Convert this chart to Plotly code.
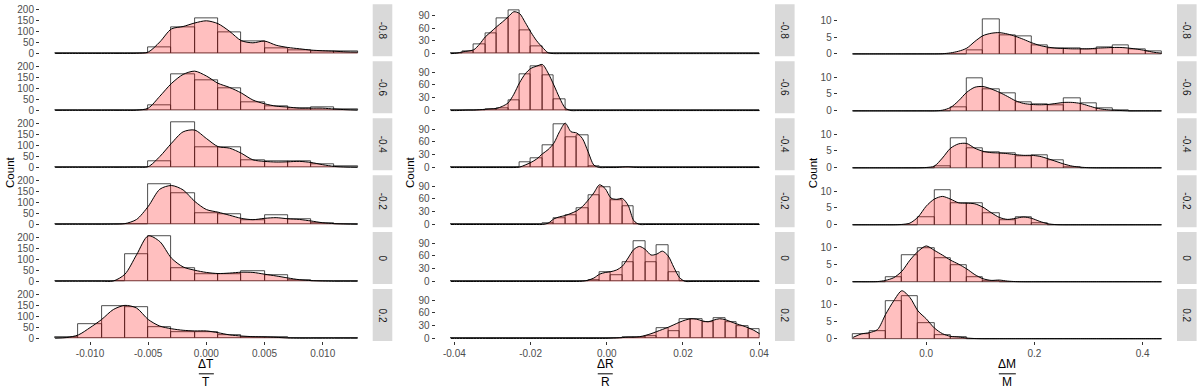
import plotly.graph_objects as go

facet_labels = ["-0.8", "-0.6", "-0.4", "-0.2", "0", "0.2"]

# ---------------- ΔT/T ----------------
dT_bins = [-0.012, -0.010, -0.008, -0.006, -0.004, -0.002, 0.000,
           0.002, 0.004, 0.006, 0.008, 0.010, 0.012]
dT_counts_m08 = [0, 0, 0, 0, 27, 118, 160, 96, 55, 25, 15, 11, 8]
dT_counts_m06 = [0, 0, 0, 0, 25, 163, 136, 99, 37, 18, 10, 13, 3]
dT_counts_m04 = [0, 0, 0, 0, 30, 203, 91, 91, 33, 27, 30, 12, 3]
dT_counts_m02 = [0, 0, 0, 0, 181, 142, 49, 44, 19, 41, 25, 7, 0]
dT_counts_0 = [0, 0, 0, 125, 205, 58, 33, 33, 44, 26, 6, 0, 0]
dT_counts_p02 = [6, 63, 146, 141, 51, 30, 30, 14, 6, 6, 0, 0, 0]

dT_grid = [-0.013, -0.012, -0.011, -0.010, -0.009, -0.008, -0.007, -0.006, -0.005,
           -0.004, -0.003, -0.002, -0.001, 0.000, 0.001, 0.002, 0.003, 0.004,
           0.005, 0.006, 0.007, 0.008, 0.009, 0.010, 0.011, 0.012, 0.013]
dT_dens_m08 = [0, 0, 0, 0, 0, 0, 0, 0.5, 6, 52, 111, 122, 138, 148, 135, 100, 58, 48,
               56, 37, 27, 21, 15, 12, 10, 7, 6]
dT_dens_m06 = [0, 0, 0, 0, 0, 0, 0, 0.5, 10, 64, 122, 163, 178, 156, 123, 104, 79, 47,
               30, 19, 15, 10, 10, 10, 6, 3, 1]
dT_dens_m04 = [0, 0, 0, 0, 0, 0, 0, 0.5, 3, 49, 109, 161, 169, 131, 94, 87, 64, 34,
               27, 24, 25, 27, 22, 12, 4, 1, 0]
dT_dens_m02 = [0, 0, 0, 0, 0, 0.5, 3, 22, 81, 159, 176, 156, 104, 67, 55, 41, 27, 21,
               27, 30, 25, 22, 15, 7, 3, 1, 0]
dT_dens_0 = [0, 0, 0, 0, 0, 1, 32, 120, 206, 180, 105, 65, 50, 40, 35, 37, 41, 40,
             32, 24, 15, 7, 3, 1, 0, 0, 0]
dT_dens_p02 = [0, 3, 15, 48, 85, 130, 149, 137, 85, 55, 43, 36, 33, 33, 25, 15, 10, 7,
               6, 4, 1, 0, 0, 0, 0, 0, 0]

# ---------------- ΔR/R ----------------
dR_bins = [-0.0394, -0.0364, -0.0334, -0.0304, -0.0274, -0.0244, -0.0214, -0.0184,
           -0.0154, -0.0124, -0.0094, -0.0064, -0.0034, -0.0004, 0.0026, 0.0056,
           0.0086, 0.0116, 0.0146, 0.0176, 0.0206, 0.0236, 0.0266, 0.0296, 0.0326,
           0.0356, 0.0386]
dR_counts_m08 = [2, 6, 23, 47, 82, 102, 55, 18, 0, 0, 0, 0, 0, 0, 0, 0, 0, 0, 0, 0, 0, 0, 0, 0, 0, 0, 0]
dR_counts_m06 = [0, 1, 2, 4, 5, 25, 85, 103, 82, 27, 0, 0, 0, 0, 0, 0, 0, 0, 0, 0, 0, 0, 0, 0, 0, 0, 0]
dR_counts_m04 = [0, 0, 0, 0, 0, 1, 12, 23, 53, 102, 72, 76, 3, 0, 0, 1, 0, 0, 0, 0, 0, 0, 0, 0, 0, 0, 0]
dR_counts_m02 = [0, 0, 0, 0, 0, 0, 0, 0, 3, 15, 21, 38, 69, 88, 57, 44, 0, 0, 0, 0, 0, 0, 0, 0, 0, 0, 0]
dR_counts_0 = [0, 0, 0, 0, 0, 0, 0, 0, 0, 0, 0, 0, 4, 23, 15, 46, 95, 46, 86, 21, 0, 0, 0, 0, 0, 0, 0]
dR_counts_p02 = [0, 0, 0, 0, 0, 0, 0, 0, 0, 0, 0, 0, 0, 0, 0, 3, 3, 5, 25, 18, 46, 46, 38, 48, 38, 28, 22]

dR_grid = [-0.0409, -0.0394, -0.0379, -0.0364, -0.0349, -0.0334, -0.0319, -0.0304,
           -0.0289, -0.0274, -0.0259, -0.0244, -0.0229, -0.0214, -0.0199, -0.0184,
           -0.0169, -0.0154, -0.0139, -0.0124, -0.0109, -0.0094, -0.0079, -0.0064,
           -0.0049, -0.0034, -0.0019, -0.0004, 0.0011, 0.0026, 0.0041, 0.0056,
           0.0071, 0.0086, 0.0101, 0.0116, 0.0131, 0.0146, 0.0161, 0.0176, 0.0191,
           0.0206, 0.0221, 0.0236, 0.0251, 0.0266, 0.0281, 0.0296, 0.0311, 0.0326,
           0.0341, 0.0356, 0.0371, 0.0386, 0.0401]
dR_dens_m08 = [0, 1, 4, 6, 9, 22, 39, 51, 63, 74, 86, 98, 94, 73, 50, 30, 15, 2,
               0, 0, 0, 0, 0, 0, 0, 0, 0, 0, 0, 0, 0, 0, 0, 0, 0, 0, 0, 0,
               0, 0, 0, 0, 0, 0, 0, 0, 0, 0, 0, 0, 0, 0, 0, 0, 0]
dR_dens_m06 = [0, 0, 0.5, 1, 1, 2, 3, 4, 5, 10, 18, 38, 65, 86, 99, 104, 108, 88, 60, 30, 6,
               0, 0, 0, 0, 0, 0, 0, 0, 0, 0, 0, 0, 0, 0, 0, 0, 0,
               0, 0, 0, 0, 0, 0, 0, 0, 0, 0, 0, 0, 0, 0, 0, 0, 0]
dR_dens_m04 = [0, 0, 0, 0, 0, 0, 0, 0, 0, 0, 0, 0, 1, 6, 12, 20, 32, 42, 57, 84, 104, 84,
               81, 68, 37, 6, 0, 0, 0, 0, 1, 1.5, 0.5, 0, 0, 0, 0, 0,
               0, 0, 0, 0, 0, 0, 0, 0, 0, 0, 0, 0, 0, 0, 0, 0, 0]
dR_dens_m02 = [0, 0, 0, 0, 0, 0, 0, 0, 0, 0, 0, 0, 0, 0, 0, 0, 0, 3, 13, 18, 21, 26,
               32, 42, 57, 74, 93, 84, 62, 59, 61, 45, 9, 0, 0, 0, 0, 0,
               0, 0, 0, 0, 0, 0, 0, 0, 0, 0, 0, 0, 0, 0, 0, 0, 0]
dR_dens_0 = [0, 0, 0, 0, 0, 0, 0, 0, 0, 0, 0, 0, 0, 0, 0, 0, 0, 0, 0, 0, 0, 0,
             0, 0.5, 3, 8, 17, 21, 23, 27, 36, 55, 75, 82, 75, 62, 64, 71,
             60, 33, 9, 0, 0, 0, 0, 0, 0, 0, 0, 0, 0, 0, 0, 0, 0]
dR_dens_p02 = [0, 0, 0, 0, 0, 0, 0, 0, 0, 0, 0, 0, 0, 0, 0, 0, 0, 0, 0, 0, 0, 0,
               0, 0, 0, 0, 0, 0, 0.5, 1, 2, 3, 3, 4, 7, 11, 16, 21,
               26, 32, 38, 43, 46, 45, 41, 39, 43, 46, 44, 39, 34, 30, 25, 19, 11]

# ---------------- ΔM/M ----------------
dM_bins = [-0.12, -0.09, -0.06, -0.03, 0.00, 0.03, 0.06, 0.09, 0.12, 0.15,
           0.18, 0.21, 0.24, 0.27, 0.30, 0.33, 0.36, 0.39, 0.42]
dM_counts_m08 = [0, 0, 0, 0, 0, 0, 0, 1, 10.4, 5.4, 5.1, 2.7, 1.7, 1.7, 1.5, 2.0, 2.5, 1.3, 0.7]
dM_counts_m06 = [0, 0, 0, 0, 0, 0, 1, 9.7, 6.5, 5.2, 2.7, 2.0, 1.7, 3.7, 2.3, 0.7, 0.3, 0, 0]
dM_counts_m04 = [0, 0, 0, 0, 0, 0.6, 8.8, 5.9, 4.5, 4.2, 3.5, 3.7, 2.2, 0.2, 0, 0, 0, 0, 0]
dM_counts_m02 = [0, 0, 0, 0, 2.4, 10.2, 6.4, 6.4, 3.5, 1.4, 2.4, 0.5, 0, 0, 0, 0, 0, 0, 0]
dM_counts_0 = [0, 0, 1.4, 7.9, 10.0, 7.1, 5.0, 1.3, 0.2, 0, 0, 0, 0, 0, 0, 0, 0, 0, 0]
dM_counts_p02 = [1.4, 2.2, 11.0, 12.5, 4.7, 1.0, 0.5, 0, 0, 0, 0, 0, 0, 0, 0, 0, 0, 0, 0]

dM_grid = [-0.135, -0.120, -0.105, -0.090, -0.075, -0.060, -0.045, -0.030, -0.015,
           0.000, 0.015, 0.030, 0.045, 0.060, 0.075, 0.090, 0.105, 0.120, 0.135,
           0.150, 0.165, 0.180, 0.195, 0.210, 0.225, 0.240, 0.255, 0.270, 0.285,
           0.300, 0.315, 0.330, 0.345, 0.360, 0.375, 0.390, 0.405, 0.420, 0.435]
dM_dens_m08 = [0, 0, 0, 0, 0, 0, 0, 0, 0, 0, 0, 0.05, 0.3, 0.8, 1.7, 3.7, 5.4, 6.1, 6.3,
               5.9, 5.2, 4.3, 3.3, 2.5, 2.0, 1.7, 1.6, 1.5, 1.5, 1.5, 1.7, 1.8, 1.9,
               1.9, 1.7, 1.4, 1.0, 0.5, 0.2]
dM_dens_m06 = [0, 0, 0, 0, 0, 0, 0, 0, 0, 0, 0, 0.2, 1.0, 3.0, 5.5, 7.0, 7.2, 6.5, 5.5,
               4.3, 3.0, 2.2, 1.9, 1.8, 1.9, 2.2, 2.5, 2.5, 2.2, 1.5, 0.8, 0.4, 0.2,
               0.1, 0, 0, 0, 0, 0]
dM_dens_m04 = [0, 0, 0, 0, 0, 0, 0, 0, 0, 0.1, 0.5, 2.9, 5.8, 7.1, 7.2, 5.8, 4.9, 4.5,
               4.4, 4.2, 3.9, 3.7, 3.7, 3.4, 2.7, 1.9, 1.1, 0.5, 0.2, 0.05, 0, 0, 0,
               0, 0, 0, 0, 0, 0]
dM_dens_m02 = [0, 0, 0, 0, 0, 0, 0.1, 0.5, 2.3, 5.5, 7.6, 8.4, 7.6, 6.5, 6.4, 6.2, 5.2,
               3.6, 2.2, 1.6, 1.9, 2.3, 1.9, 1.0, 0.3, 0.05, 0, 0, 0, 0, 0, 0, 0, 0,
               0, 0, 0, 0, 0]
dM_dens_0 = [0, 0, 0, 0.05, 0.4, 1.2, 3.1, 6.4, 9.0, 10.6, 9.3, 7.9, 6.4, 5.2, 3.8, 2.1,
             0.9, 0.4, 0.5, 0.2, 0.05, 0, 0, 0, 0, 0, 0, 0, 0, 0, 0, 0, 0, 0, 0, 0,
             0, 0, 0]
dM_dens_p02 = [0.4, 1.4, 1.8, 2.7, 7.2, 11.2, 14.2, 12.2, 8.2, 5.9, 3.2, 1.5, 0.7, 0.5,
               0.2, 0.05, 0, 0, 0, 0, 0, 0, 0, 0, 0, 0, 0, 0, 0, 0, 0, 0, 0, 0, 0, 0,
               0, 0, 0]

# tick labels
dT_ticks = [-0.010, -0.005, 0.000, 0.005, 0.010]
dT_ticktext = ["-0.010", "-0.005", "0.000", "0.005", "0.010"]
dR_ticks = [-0.04, -0.02, 0.00, 0.02, 0.04]
dR_ticktext = ["-0.04", "-0.02", "0.00", "0.02", "0.04"]
dM_ticks = [0.0, 0.2, 0.4]
dM_ticktext = ["0.0", "0.2", "0.4"]
count_ticks = [[0, 50, 100, 150, 200], [0, 30, 60, 90], [0, 5, 10]]

panels = [
    dict(bins=dT_bins, width=0.002, grid=dT_grid,
         counts=[dT_counts_m08, dT_counts_m06, dT_counts_m04, dT_counts_m02, dT_counts_0, dT_counts_p02],
         dens=[dT_dens_m08, dT_dens_m06, dT_dens_m04, dT_dens_m02, dT_dens_0, dT_dens_p02],
         ticks=dT_ticks, ticktext=dT_ticktext, xrange=[-0.0143, 0.0143], yrange=[-13, 223],
         num="ΔT", den="T"),
    dict(bins=dR_bins, width=0.003, grid=dR_grid,
         counts=[dR_counts_m08, dR_counts_m06, dR_counts_m04, dR_counts_m02, dR_counts_0, dR_counts_p02],
         dens=[dR_dens_m08, dR_dens_m06, dR_dens_m04, dR_dens_m02, dR_dens_0, dR_dens_p02],
         ticks=dR_ticks, ticktext=dR_ticktext, xrange=[-0.04495, 0.04415], yrange=[-6.2, 115.6],
         num="ΔR", den="R"),
    dict(bins=dM_bins, width=0.03, grid=dM_grid,
         counts=[dM_counts_m08, dM_counts_m06, dM_counts_m04, dM_counts_m02, dM_counts_0, dM_counts_p02],
         dens=[dM_dens_m08, dM_dens_m06, dM_dens_m04, dM_dens_m02, dM_dens_0, dM_dens_p02],
         ticks=dM_ticks, ticktext=dM_ticktext, xrange=[-0.1635, 0.4635], yrange=[-0.7, 14.7],
         num="ΔM", den="M"),
]

# page geometry (pixels)
W, H = 1200, 392
panel_left = [40.0, 435.5, 837.7]
panel_right = [372.7, 775.0, 1177.0]
strip_w = 19.6
row_top0, row_h, row_step = 4.3, 52.4, 57.4
count_x = [9.3, 409.3, 812.7]
frac_w = [15, 15, 17]

FONT = "Liberation Sans, Arial, sans-serif"

fig = go.Figure()
layout = dict(width=W, height=H, margin=dict(l=0, r=0, t=0, b=0),
              plot_bgcolor="white", paper_bgcolor="white", showlegend=False,
              barmode="overlay", bargap=0, font=dict(family=FONT))
shapes, annotations = [], []

for p, pan in enumerate(panels):
    x0, x1 = panel_left[p] / W, panel_right[p] / W
    for r in range(6):
        n = p * 6 + r + 1
        sfx = "" if n == 1 else str(n)
        top = row_top0 + r * row_step
        bot = top + row_h
        y0, y1 = 1 - bot / H, 1 - top / H
        last = r == 5

        fig.add_trace(go.Bar(
            x=pan["bins"], y=pan["counts"][r], width=pan["width"],
            marker=dict(color="rgba(255,255,255,0)", line=dict(color="#222222", width=0.8)),
            xaxis="x" + sfx, yaxis="y" + sfx, hoverinfo="x+y"))
        fig.add_trace(go.Scatter(
            x=pan["grid"], y=pan["dens"][r], mode="lines",
            line=dict(color="black", width=1, shape="spline", smoothing=0.8),
            fill="tozeroy", fillcolor="rgba(255,0,0,0.25)",
            xaxis="x" + sfx, yaxis="y" + sfx, hoverinfo="x+y"))

        layout["xaxis" + sfx] = dict(
            domain=[x0, x1], range=pan["xrange"], anchor="y" + sfx,
            showgrid=False, zeroline=False, showline=False,
            tickvals=pan["ticks"], ticktext=pan["ticktext"],
            showticklabels=last, ticks="outside" if last else "",
            ticklen=3, tickwidth=1, tickcolor="#333333",
            tickfont=dict(size=10, color="#4D4D4D", family=FONT))
        layout["yaxis" + sfx] = dict(
            domain=[y0, y1], range=pan["yrange"], anchor="x" + sfx,
            showgrid=False, zeroline=False, showline=False,
            tickvals=count_ticks[p], ticktext=[str(v) for v in count_ticks[p]],
            ticks="outside", ticklen=3, tickwidth=1, tickcolor="#333333",
            tickfont=dict(size=10, color="#4D4D4D", family=FONT))

        # facet strip
        shapes.append(dict(type="rect", xref="paper", yref="paper",
                           x0=x1, x1=(panel_right[p] + strip_w) / W, y0=y0, y1=y1,
                           fillcolor="#D9D9D9", line=dict(width=0), layer="below"))
        annotations.append(dict(xref="paper", yref="paper",
                                x=(panel_right[p] + strip_w / 2) / W, y=(y0 + y1) / 2,
                                text=facet_labels[r], textangle=90, showarrow=False,
                                font=dict(size=10, color="#1A1A1A", family=FONT),
                                xanchor="center", yanchor="middle"))

    # y title
    mid = 1 - (row_top0 + (5 * row_step + row_h) / 2) / H
    annotations.append(dict(xref="paper", yref="paper", x=count_x[p] / W, y=mid,
                            text="Count", textangle=-90, showarrow=False,
                            font=dict(size=11.5, color="black", family=FONT),
                            xanchor="center", yanchor="middle"))
    # x title as a fraction
    cx = (panel_left[p] + panel_right[p]) / 2
    annotations.append(dict(xref="paper", yref="paper", x=cx / W, y=1 - 366.5 / H,
                            text=pan["num"], showarrow=False, borderpad=0,
                            font=dict(size=12, color="black", family=FONT),
                            xanchor="center", yanchor="middle"))
    annotations.append(dict(xref="paper", yref="paper", x=cx / W, y=1 - 385 / H,
                            text=pan["den"], showarrow=False, borderpad=0,
                            font=dict(size=12, color="black", family=FONT),
                            xanchor="center", yanchor="middle"))
    shapes.append(dict(type="line", xref="paper", yref="paper",
                       x0=(cx - frac_w[p] / 2) / W, x1=(cx + frac_w[p] / 2) / W,
                       y0=1 - 376.7 / H, y1=1 - 376.7 / H,
                       line=dict(color="black", width=1)))

layout["shapes"] = shapes
layout["annotations"] = annotations
fig.update_layout(**layout)

# drop the browser's default page margin so the figure sits at the window corner
fig.write_html("out.html", config={"displayModeBar": False},
               post_script="document.body.style.margin='0';document.body.style.overflow='hidden';")
